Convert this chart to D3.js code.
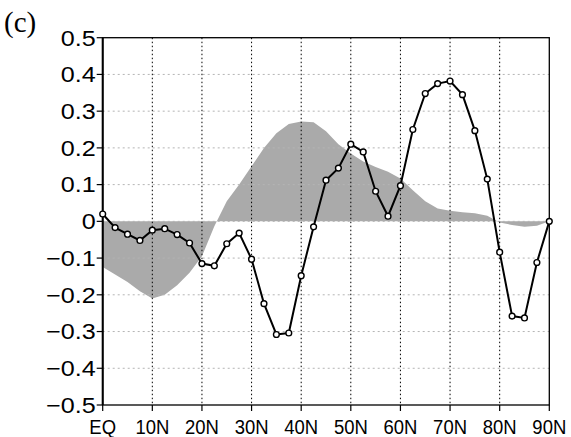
<!DOCTYPE html>
<html>
<head>
<meta charset="utf-8">
<script src="https://cdn.jsdelivr.net/npm/d3@7"></script>
<style>
  body { margin: 0; background: #fff; }
  svg { display: block; }
</style>
</head>
<body>
<svg id="chart" width="571" height="437"></svg>
<script>
// Latitudes (degrees N), every 2.5°
const lats = d3.range(0, 90.001, 2.5);
// Line series (black with open circles)
const lineValues = [
  0.02, -0.017, -0.035, -0.052, -0.024, -0.02, -0.036, -0.059, -0.115, -0.121,
  -0.061, -0.032, -0.103, -0.224, -0.308, -0.304, -0.148, -0.015, 0.112, 0.145,
  0.21, 0.189, 0.082, 0.014, 0.097, 0.25, 0.348, 0.375, 0.382, 0.345,
  0.247, 0.115, -0.084, -0.258, -0.263, -0.112, 0.0
];
// Shaded series (gray area)
const areaValues = [
  -0.124, -0.145, -0.165, -0.19, -0.21, -0.2, -0.174, -0.14, -0.095, -0.013,
  0.055, 0.1, 0.15, 0.2, 0.24, 0.265, 0.272, 0.27, 0.245, 0.21,
  0.185, 0.163, 0.148, 0.135, 0.117, 0.085, 0.055, 0.035, 0.029, 0.025,
  0.022, 0.015, -0.003, -0.01, -0.015, -0.012, 0.0
];
const xTicks = [0, 10, 20, 30, 40, 50, 60, 70, 80, 90];
const xTickLabels = ["EQ", "10N", "20N", "30N", "40N", "50N", "60N", "70N", "80N", "90N"];
const yTicks = [-0.5, -0.4, -0.3, -0.2, -0.1, 0, 0.1, 0.2, 0.3, 0.4, 0.5];
const yTickLabels = ["−0.5", "−0.4", "−0.3", "−0.2", "−0.1", "0", "0.1", "0.2", "0.3", "0.4", "0.5"];
const panelLabel = "(c)";

const svg = d3.select("#chart");
const L = 102.7, R = 549.3, T = 37.7, B = 405;
const x = d3.scaleLinear().domain([0, 90]).range([L, R]);
const y = d3.scaleLinear().domain([-0.5, 0.5]).range([B, T]);

const data = lats.map((lat, i) => ({ lat, v: lineValues[i], a: areaValues[i] }));

// shaded area
svg.append("path")
  .datum(data)
  .attr("d", d3.area().x(d => x(d.lat)).y0(y(0)).y1(d => y(d.a)))
  .attr("fill", "#aaaaaa");

// horizontal grid (gray dotted)
svg.append("g").selectAll("line")
  .data(yTicks.filter(t => t > -0.5 && t < 0.5))
  .join("line")
  .attr("x1", L).attr("x2", R)
  .attr("y1", d => y(d)).attr("y2", d => y(d))
  .attr("stroke", "#b4b4b4").attr("stroke-width", 1)
  .attr("stroke-dasharray", "2,3");

// vertical grid (black dotted)
svg.append("g").selectAll("line")
  .data(xTicks.filter(t => t > 0 && t < 90))
  .join("line")
  .attr("x1", d => x(d)).attr("x2", d => x(d))
  .attr("y1", T).attr("y2", B)
  .attr("stroke", "#000").attr("stroke-width", 1)
  .attr("stroke-dasharray", "1.5,2.5");

// frame
svg.append("rect")
  .attr("x", L).attr("y", T).attr("width", R - L).attr("height", B - T)
  .attr("fill", "none").attr("stroke", "#000").attr("stroke-width", 1.3);
svg.append("line").attr("x1", L).attr("x2", L).attr("y1", T).attr("y2", B)
  .attr("stroke", "#000").attr("stroke-width", 2);

// ticks
svg.append("g").selectAll("line")
  .data(yTicks).join("line")
  .attr("x1", L - 6).attr("x2", L)
  .attr("y1", d => y(d)).attr("y2", d => y(d))
  .attr("stroke", "#000").attr("stroke-width", 1.2);
svg.append("g").selectAll("line")
  .data(xTicks).join("line")
  .attr("x1", d => x(d)).attr("x2", d => x(d))
  .attr("y1", B).attr("y2", B + 6)
  .attr("stroke", "#000").attr("stroke-width", 1.2);

// y tick labels
svg.append("g").selectAll("text")
  .data(yTicks).join("text")
  .attr("transform", d => `translate(${L - 7},${y(d) + 7.8}) scale(1.17,1)`)
  .attr("text-anchor", "end")
  .attr("font-family", "Liberation Sans, Arial, sans-serif")
  .attr("font-size", 21.5)
  .attr("fill", "#000")
  .text((d, i) => yTickLabels[i]);

// x tick labels
svg.append("g").selectAll("text")
  .data(xTicks).join("text")
  .attr("transform", d => `translate(${x(d)},${434}) scale(0.88,1)`)
  .attr("text-anchor", "middle")
  .attr("font-family", "Liberation Sans, Arial, sans-serif")
  .attr("font-size", 21)
  .attr("fill", "#000")
  .text((d, i) => xTickLabels[i]);

// line
svg.append("path")
  .datum(data)
  .attr("d", d3.line().x(d => x(d.lat)).y(d => y(d.v)))
  .attr("fill", "none").attr("stroke", "#000").attr("stroke-width", 2);

// markers
svg.append("g").selectAll("circle")
  .data(data).join("circle")
  .attr("cx", d => x(d.lat)).attr("cy", d => y(d.v))
  .attr("r", 2.9)
  .attr("fill", "#fff").attr("stroke", "#000").attr("stroke-width", 1.4);

// panel label
svg.append("text")
  .attr("x", 4).attr("y", 32)
  .attr("font-family", "Liberation Serif, DejaVu Serif, serif")
  .attr("font-size", 29)
  .attr("fill", "#000")
  .text(panelLabel);
</script>
</body>
</html>
